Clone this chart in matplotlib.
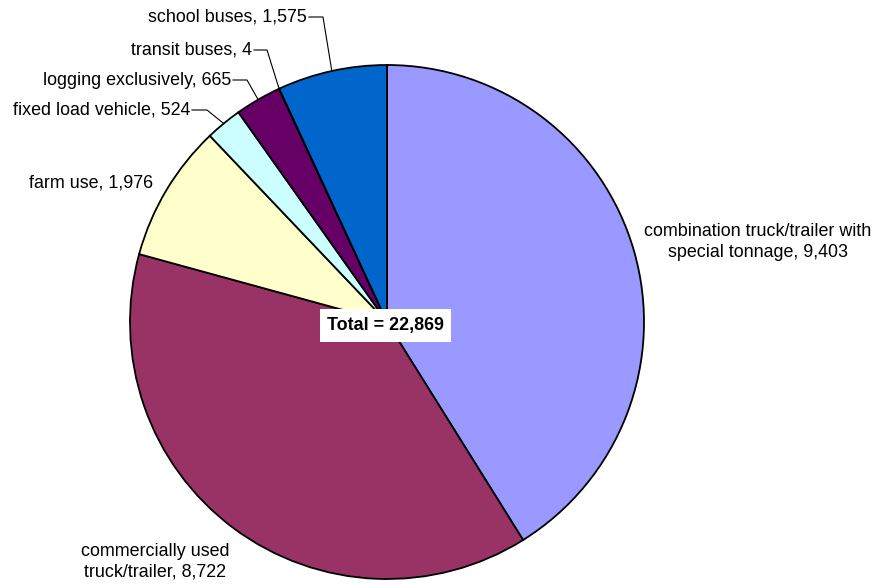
import numpy as np
import matplotlib.pyplot as plt

plt.rcParams['font.family'] = ['Liberation Sans', 'DejaVu Sans']

labels = ["combination truck/trailer with\nspecial tonnage", "commercially used\ntruck/trailer",
          "farm use", "fixed load vehicle", "logging exclusively", "transit buses", "school buses"]
values = [9403, 8722, 1976, 524, 665, 4, 1575]
colors = ["#9999FF", "#993366", "#FFFFCC", "#CCFFFF", "#660066", "#FF8080", "#0066CC"]

# label anchor (pixel coords, y from top), alignment, elbow x for leader (None = no leader)
lab_pos = [(758, 242, "center", None), (155, 562, "center", None), (153, 183, "right", None),
           (190, 110, "right", 207), (231, 80, "right", 247), (252, 50, "right", 267),
           (307, 17, "right", 323)]

W, H = 878, 585
CX, CY, R = 387, 322, 257
FS = 12.9

fig = plt.figure(figsize=(W / 100, H / 100), dpi=100)
ax = fig.add_axes([0, 0, 1, 1])

wedges, _ = ax.pie(values, colors=colors, startangle=90, counterclock=False,
                   center=(CX, H - CY), radius=R,
                   wedgeprops=dict(edgecolor="black", linewidth=1.3))
ax.set_xlim(0, W)
ax.set_ylim(0, H)
ax.set_aspect("equal")
ax.axis("off")

total = sum(values)
cum = np.cumsum([0] + values)
for i, (lab, v) in enumerate(zip(labels, values)):
    lx, ly, ha, elbow = lab_pos[i]
    txt = f"{lab}, {v:,}"
    ax.text(lx, H - ly, txt, ha=ha, va="center", fontsize=FS, color="black",
            multialignment="center", linespacing=1.28)
    if elbow is not None:
        mid = (cum[i] + v / 2) / total
        ang = np.deg2rad(90 - 360 * mid)
        ex, ey = CX + R * np.cos(ang), H - CY + R * np.sin(ang)
        ax.plot([lx + 2, elbow, ex], [H - ly, H - ly, ey], color="black", lw=0.8)

ax.text(385.5, H - 325.5, f"Total = {total:,}", ha="center", va="center",
        fontsize=FS, fontweight="bold",
        bbox=dict(boxstyle="square,pad=0.42", facecolor="white", edgecolor="none"))

fig.savefig("out.png", dpi=100)
